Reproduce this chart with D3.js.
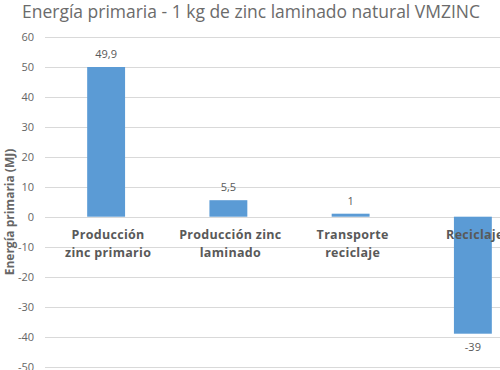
<!DOCTYPE html>
<html><head><meta charset="utf-8">
<script src="https://cdn.jsdelivr.net/npm/d3@7"></script>
<style>body{margin:0;background:#fff}svg{display:block}</style>
</head><body>
<script>
const categories = [["Producción","zinc primario"],["Producción zinc","laminado"],["Transporte","reciclaje"],["Reciclaje"]];
const values = [49.9, 5.5, 1, -39];
const valueLabels = ["49,9","5,5","1","-39"];
const yTicks = [60,50,40,30,20,10,0,-10,-20,-30,-40,-50];
const title = "Energía primaria - 1 kg de zinc laminado natural VMZINC";
const yTitle = "Energía primaria (MJ)";

const W=500,H=370;
const svg=d3.select("body").append("svg").attr("width",W).attr("height",H);
const font="'Open Sans', 'Liberation Sans', sans-serif";
const gray="#595959";

const x=d3.scaleBand().domain(d3.range(values.length)).range([45,534]).paddingInner(0.69).paddingOuter(0.345);
const y=d3.scaleLinear().domain([-50,60]).range([366.7,36.7]);

// gridlines
svg.append("g").selectAll("line").data(yTicks).join("line")
  .attr("x1",45).attr("x2",W).attr("y1",d=>Math.round(y(d))+0.5).attr("y2",d=>Math.round(y(d))+0.5)
  .attr("stroke","#d9d9d9").attr("stroke-width",1);

// y axis tick labels
const yAxis=d3.axisLeft(y).tickValues(yTicks).tickSize(0).tickPadding(0).tickFormat(d=>String(d));
const gy=svg.append("g").attr("transform","translate(34,0)").call(yAxis);
gy.select(".domain").remove();
gy.selectAll("text").attr("font-family",font).attr("font-size",11).attr("fill","#666");

// bars
svg.append("g").selectAll("rect").data(values).join("rect")
  .attr("x",(d,i)=>x(i)).attr("width",x.bandwidth())
  .attr("y",d=>y(Math.max(0,d))).attr("height",d=>Math.abs(y(d)-y(0)))
  .attr("fill","#5B9BD5");

// value labels
svg.append("g").selectAll("text").data(values).join("text")
  .attr("x",(d,i)=>x(i)+x.bandwidth()/2)
  .attr("y",d=>d>=0? y(d)-9 : y(d)+17)
  .attr("text-anchor","middle").attr("font-family",font).attr("font-size",11).attr("fill",gray)
  .text((d,i)=>valueLabels[i]);

// category labels
const cg=svg.append("g").selectAll("text").data(categories).join("text")
  .attr("x",(d,i)=>x(i)+x.bandwidth()/2+2)
  .attr("y",239)
  .attr("text-anchor","middle").attr("font-family",font).attr("font-size",12.5).attr("font-weight","bold").attr("fill",gray)
  .attr("letter-spacing",0.3);
cg.selectAll("tspan").data(d=>d).join("tspan")
  .attr("x",function(){return this.parentNode.getAttribute("x");})
  .attr("dy",(d,i)=>i?18:0).text(d=>d);

// y title
svg.append("text").attr("transform","translate(14,212) rotate(-90)")
  .attr("text-anchor","middle").attr("font-family",font).attr("font-size",12).attr("font-weight","bold").attr("fill","#666")
  .text(yTitle);

// title
const t=svg.append("text").attr("x",22).attr("y",18).attr("font-family",font).attr("font-size",18).attr("fill","#6b6b6b").text(title);
t.attr("textLength",458).attr("lengthAdjust","spacingAndGlyphs");
</script>
</body></html>
